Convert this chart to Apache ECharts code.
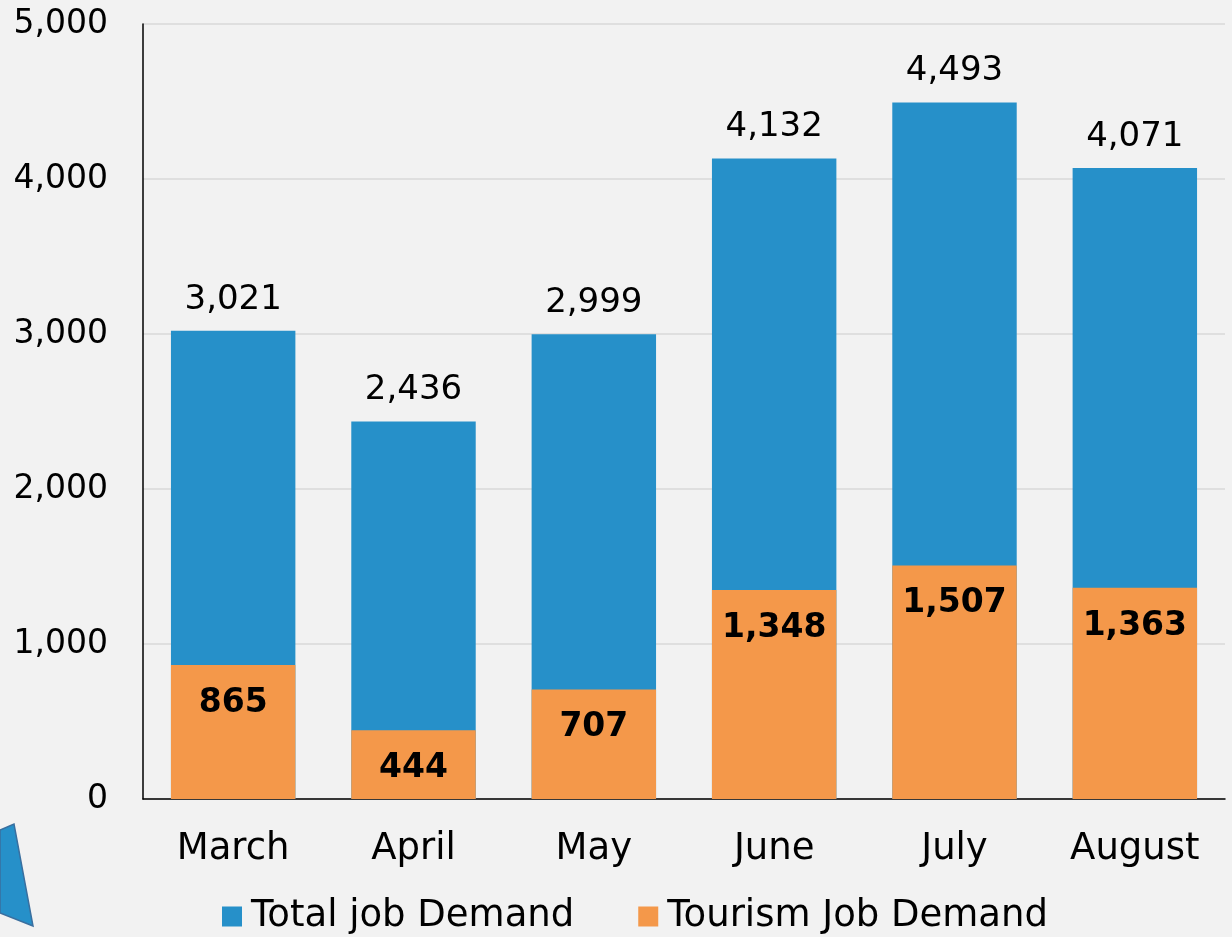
<!DOCTYPE html>
<html><head><meta charset="utf-8">
<script src="https://cdn.jsdelivr.net/npm/echarts@6/dist/echarts.min.js"></script>
<style>html,body{margin:0;padding:0;background:#f2f2f2}#c{width:1232px;height:937px}</style>
</head><body><div id="c"></div>
<script>
var categories = ['March','April','May','June','July','August'];
var totalDemand = [3021, 2436, 2999, 4132, 4493, 4071];
var tourismDemand = [865, 444, 707, 1348, 1507, 1363];
var seriesNames = ['Total job Demand', 'Tourism Job Demand'];

var FONT = 'DejaVu Sans';
var chart = echarts.init(document.getElementById('c'), null, {renderer:'canvas'});
var fmt = function(v){ return Number(v).toLocaleString('en-US'); };
chart.setOption({
  backgroundColor: '#f2f2f2',
  animation: false,
  textStyle: {fontFamily: FONT},
  grid: {left: 143, right: 7, top: 24, bottom: 138, containLabel: false},
  legend: {
    bottom: -3, left: 217, itemWidth: 20, itemHeight: 20, itemGap: 64,
    icon: 'rect',
    textStyle: {fontSize: 37, color: '#000', fontFamily: FONT, padding: [0,0,0,4]},
    data: seriesNames
  },
  xAxis: {
    type: 'category', data: categories,
    axisLine: {lineStyle: {color: '#000', width: 1.5}},
    axisTick: {show: false},
    axisLabel: {fontSize: 37, color: '#000', margin: 32, fontFamily: FONT}
  },
  yAxis: {
    type: 'value', min: 0, max: 5000, interval: 1000,
    axisLine: {show: true, lineStyle: {color: '#000', width: 1.5}},
    axisTick: {show: false},
    splitLine: {lineStyle: {color: '#d9d9d9', width: 1.5}},
    axisLabel: {fontSize: 33, color: '#000', margin: 35, fontFamily: FONT, formatter: fmt}
  },
  graphic: [{
    type: 'polygon',
    shape: {points: [[0,830],[14,824],[33,926],[0,913]]},
    style: {fill: '#2690c9', stroke: '#3a6f9f', lineWidth: 1.5}
  }],
  series: [
    {
      name: seriesNames[0], type: 'bar', data: totalDemand,
      barCategoryGap: '31%', barGap: '-100%',
      itemStyle: {color: '#2690c9'},
      label: {show: true, position: 'top', distance: 14, fontSize: 34, color: '#000', fontFamily: FONT, formatter: function(p){return fmt(p.value);}}
    },
    {
      name: seriesNames[1], type: 'bar', data: tourismDemand,
      barCategoryGap: '31%', barGap: '-100%',
      itemStyle: {color: '#f4984a'},
      label: {show: true, position: 'insideTop', distance: 22, fontSize: 33, fontWeight: 'bold', color: '#000', fontFamily: FONT, formatter: function(p){return fmt(p.value);}}
    }
  ]
});
</script></body></html>
